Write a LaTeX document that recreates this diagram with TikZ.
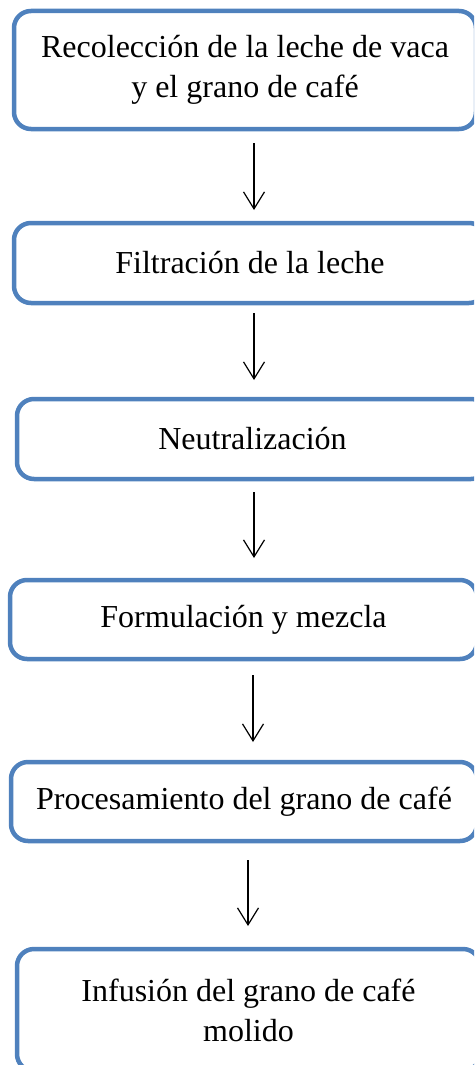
\documentclass[tikz,border=0pt]{standalone}
\usepackage{fontspec}
\setmainfont{Liberation Serif}
\usetikzlibrary{arrows.meta}
\definecolor{boxblue}{HTML}{4F81BD}
\tikzset{
  stepbox/.style={draw=boxblue, line width=4.5pt, rounded corners=17pt, align=center,
    font=\fontsize{32}{40}\selectfont, inner sep=0pt},
  flowarrow/.style={line width=1.2pt, -{Straight Barb[length=17pt,width=21pt,line width=1.2pt]}}
}
\begin{document}
\begin{tikzpicture}[x=1pt,y=-1pt]
\useasboundingbox (0,0) rectangle (474,1065);
\clip (0,0) rectangle (474,1065);
\node[stepbox, minimum width=462pt, minimum height=118pt] (b1) at (245,70) {Recolección de la leche de vaca\\y el grano de café};
\node[stepbox, minimum width=472pt, minimum height=80pt] (b2) at (250,263) {Filtración de la leche};
\node[stepbox, minimum width=471pt, minimum height=80pt] (b3) at (252.5,439) {Neutralización};
\node[stepbox, minimum width=467pt, minimum height=79pt] (b4) at (243.5,619.5) {Formulación y mezcla};
\node[stepbox, minimum width=466pt, minimum height=79pt] (b5) at (244,801.5) {Procesamiento del grano de café};
\node[stepbox, minimum width=463pt, minimum height=122pt] (b6) at (248.5,1010) {Infusión del grano de café\\molido};
\coordinate (a1) at (254,0);
\coordinate (a2) at (254,0);
\coordinate (a3) at (254,0);
\coordinate (a4) at (253,0);
\coordinate (a5) at (248,0);
\draw[flowarrow, shorten <=11.75pt, shorten >=10.75pt] (b1.south -| a1) -- (b2.north -| a1);
\draw[flowarrow, shorten <=7.75pt, shorten >=16.75pt] (b2.south -| a2) -- (b3.north -| a2);
\draw[flowarrow, shorten <=10.75pt, shorten >=19.75pt] (b3.south -| a3) -- (b4.north -| a3);
\draw[flowarrow, shorten <=13.75pt, shorten >=17.75pt] (b4.south -| a4) -- (b5.north -| a4);
\draw[flowarrow, shorten <=16.75pt, shorten >=20.75pt] (b5.south -| a5) -- (b6.north -| a5);
\end{tikzpicture}
\end{document}
